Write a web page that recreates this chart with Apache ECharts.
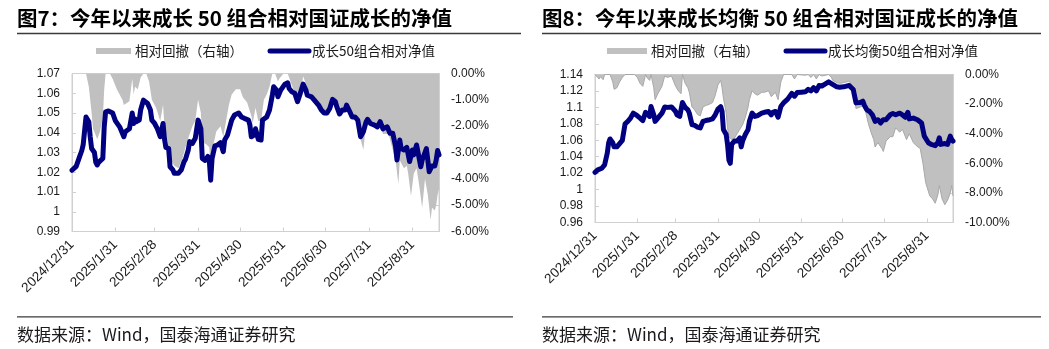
<!DOCTYPE html>
<html>
<head>
<meta charset="utf-8">
<script src="https://cdn.jsdelivr.net/npm/echarts@6/dist/echarts.min.js"></script>
<style>
  html, body { margin: 0; padding: 0; background: #fff; }
  #chart { width: 1049px; height: 349px; }
</style>
</head>
<body>
<div id="chart"></div>
<script>
// ---- Data -------------------------------------------------------------
// Month-end dates shown on the horizontal axis
const monthEndLabels = ['2024/12/31', '2025/1/31', '2025/2/28', '2025/3/31', '2025/4/30',
  '2025/5/31', '2025/6/30', '2025/7/31', '2025/8/31'];

// Fig.7: 成长50组合相对净值 (left axis)
const fig7Nav = [
  ['2024/12/31', 1.021], ['2025/1/3', 1.023], ['2025/1/5', 1.027], ['2025/1/7', 1.031], ['2025/1/8', 1.034],
  ['2025/1/10', 1.048], ['2025/1/11', 1.049], ['2025/1/12', 1.0456], ['2025/1/13', 1.038], ['2025/1/14', 1.032],
  ['2025/1/16', 1.030], ['2025/1/17', 1.025], ['2025/1/18', 1.0237], ['2025/1/19', 1.025], ['2025/1/22', 1.027],
  ['2025/1/23', 1.043], ['2025/1/24', 1.0506], ['2025/1/26', 1.051], ['2025/1/29', 1.050], ['2025/1/31', 1.046],
  ['2025/2/3', 1.043], ['2025/2/6', 1.038], ['2025/2/7', 1.0405], ['2025/2/10', 1.042], ['2025/2/11', 1.0417],
  ['2025/2/12', 1.050], ['2025/2/13', 1.0447], ['2025/2/14', 1.047], ['2025/2/15', 1.0456], ['2025/2/17', 1.0464],
  ['2025/2/18', 1.0515], ['2025/2/20', 1.0565], ['2025/2/23', 1.0548], ['2025/2/25', 1.0515], ['2025/2/26', 1.0464],
  ['2025/2/28', 1.0447], ['2025/3/2', 1.042], ['2025/3/4', 1.038], ['2025/3/6', 1.0447], ['2025/3/7', 1.037],
  ['2025/3/8', 1.0326], ['2025/3/10', 1.032], ['2025/3/11', 1.0228], ['2025/3/13', 1.0212], ['2025/3/14', 1.0195],
  ['2025/3/17', 1.0195], ['2025/3/19', 1.0212], ['2025/3/21', 1.0254], ['2025/3/22', 1.0265], ['2025/3/24', 1.0313],
  ['2025/3/25', 1.0355], ['2025/3/27', 1.0346], ['2025/3/29', 1.0372], ['2025/3/31', 1.0464], ['2025/4/2', 1.042],
  ['2025/4/3', 1.027], ['2025/4/5', 1.026], ['2025/4/7', 1.028], ['2025/4/8', 1.026], ['2025/4/9', 1.016],
  ['2025/4/10', 1.027], ['2025/4/12', 1.0333], ['2025/4/14', 1.0338], ['2025/4/16', 1.035], ['2025/4/18', 1.0304],
  ['2025/4/19', 1.0363], ['2025/4/21', 1.0388], ['2025/4/24', 1.0464], ['2025/4/26', 1.049], ['2025/4/29', 1.050],
  ['2025/5/1', 1.048], ['2025/5/3', 1.0473], ['2025/5/6', 1.0464], ['2025/5/7', 1.0439], ['2025/5/8', 1.038],
  ['2025/5/10', 1.0388], ['2025/5/11', 1.042], ['2025/5/13', 1.0367], ['2025/5/15', 1.0363], ['2025/5/16', 1.0464],
  ['2025/5/19', 1.048], ['2025/5/21', 1.0515], ['2025/5/23', 1.059], ['2025/5/24', 1.0633], ['2025/5/26', 1.0616],
  ['2025/5/27', 1.0582], ['2025/5/29', 1.0616], ['2025/6/1', 1.0646], ['2025/6/3', 1.0653], ['2025/6/4', 1.0624],
  ['2025/6/6', 1.0607], ['2025/6/8', 1.060], ['2025/6/10', 1.0557], ['2025/6/11', 1.0565], ['2025/6/12', 1.060],
  ['2025/6/14', 1.0646], ['2025/6/16', 1.0616], ['2025/6/17', 1.059], ['2025/6/20', 1.0582], ['2025/6/22', 1.0565],
  ['2025/6/25', 1.054], ['2025/6/27', 1.0515], ['2025/6/29', 1.050], ['2025/7/1', 1.050], ['2025/7/3', 1.0523],
  ['2025/7/5', 1.0569], ['2025/7/7', 1.0557], ['2025/7/8', 1.0532], ['2025/7/10', 1.0495], ['2025/7/12', 1.0515],
  ['2025/7/14', 1.0515], ['2025/7/15', 1.054], ['2025/7/17', 1.0511], ['2025/7/19', 1.048], ['2025/7/21', 1.048],
  ['2025/7/23', 1.0464], ['2025/7/25', 1.038], ['2025/7/27', 1.0405], ['2025/7/29', 1.0456], ['2025/7/30', 1.0468],
  ['2025/8/1', 1.0447], ['2025/8/4', 1.0439], ['2025/8/6', 1.043], ['2025/8/8', 1.0456], ['2025/8/10', 1.042],
  ['2025/8/11', 1.042], ['2025/8/13', 1.043], ['2025/8/15', 1.0397], ['2025/8/17', 1.0397], ['2025/8/19', 1.033],
  ['2025/8/20', 1.0262], ['2025/8/22', 1.0363], ['2025/8/23', 1.032], ['2025/8/25', 1.0313], ['2025/8/27', 1.0326],
  ['2025/8/29', 1.0254], ['2025/8/31', 1.0313], ['2025/9/1', 1.0288], ['2025/9/3', 1.0338], ['2025/9/6', 1.0228],
  ['2025/9/7', 1.0262], ['2025/9/10', 1.032], ['2025/9/11', 1.0262], ['2025/9/12', 1.0203], ['2025/9/14', 1.0232],
  ['2025/9/16', 1.0232], ['2025/9/17', 1.0262], ['2025/9/18', 1.031], ['2025/9/19', 1.0288]
];

// Fig.7: 相对回撤 in % (right axis)
const fig7Drawdown = [
  ['2024/12/31', 0], ['2025/1/10', 0], ['2025/1/11', 0], ['2025/1/12', -0.5], ['2025/1/14', -1.5],
  ['2025/1/15', -2.1], ['2025/1/17', -2.35], ['2025/1/18', -2.5], ['2025/1/20', -2.2], ['2025/1/22', -1.7],
  ['2025/1/23', -0.6], ['2025/1/24', 0], ['2025/1/27', 0], ['2025/1/29', -0.2], ['2025/2/1', -0.6],
  ['2025/2/5', -1.0], ['2025/2/6', -1.2], ['2025/2/10', -1.05], ['2025/2/12', -0.2], ['2025/2/13', -0.8],
  ['2025/2/14', -0.5], ['2025/2/16', -0.6], ['2025/2/18', -0.15], ['2025/2/20', 0], ['2025/2/22', 0],
  ['2025/2/24', -0.3], ['2025/2/26', -1.0], ['2025/3/1', -1.3], ['2025/3/4', -1.8], ['2025/3/6', -1.2],
  ['2025/3/7', -2.0], ['2025/3/9', -2.5], ['2025/3/11', -3.2], ['2025/3/14', -3.5], ['2025/3/17', -3.6],
  ['2025/3/20', -3.2], ['2025/3/22', -2.8], ['2025/3/25', -2.3], ['2025/3/27', -2.0], ['2025/3/29', -1.8],
  ['2025/3/31', -1.0], ['2025/4/2', -1.5], ['2025/4/3', -2.6], ['2025/4/6', -2.7], ['2025/4/8', -2.8],
  ['2025/4/9', -3.6], ['2025/4/11', -2.7], ['2025/4/13', -2.2], ['2025/4/16', -2.0], ['2025/4/18', -2.4],
  ['2025/4/20', -1.8], ['2025/4/22', -1.2], ['2025/4/24', -0.8], ['2025/4/27', -0.6], ['2025/4/30', -0.6],
  ['2025/5/2', -0.9], ['2025/5/5', -1.1], ['2025/5/8', -1.6], ['2025/5/9', -1.9], ['2025/5/11', -1.3],
  ['2025/5/13', -1.8], ['2025/5/15', -1.8], ['2025/5/17', -1.0], ['2025/5/19', -0.8], ['2025/5/21', -0.5],
  ['2025/5/23', 0], ['2025/5/25', 0], ['2025/5/27', -0.3], ['2025/5/28', -0.2], ['2025/5/31', 0],
  ['2025/6/3', 0], ['2025/6/5', -0.3], ['2025/6/7', -0.6], ['2025/6/9', -0.9], ['2025/6/11', -0.9],
  ['2025/6/13', -0.5], ['2025/6/14', -0.1], ['2025/6/16', -0.4], ['2025/6/17', -0.6], ['2025/6/21', -0.9],
  ['2025/6/25', -1.3], ['2025/6/28', -1.5], ['2025/7/1', -1.6], ['2025/7/3', -1.4], ['2025/7/5', -0.9],
  ['2025/7/7', -1.1], ['2025/7/10', -1.6], ['2025/7/13', -1.4], ['2025/7/15', -1.2], ['2025/7/17', -1.4],
  ['2025/7/20', -1.7], ['2025/7/23', -1.8], ['2025/7/25', -2.5], ['2025/7/27', -2.9], ['2025/7/29', -1.9],
  ['2025/7/31', -1.75], ['2025/8/2', -2.0], ['2025/8/5', -2.1], ['2025/8/8', -1.9], ['2025/8/10', -2.3],
  ['2025/8/14', -2.3], ['2025/8/16', -2.7], ['2025/8/19', -3.3], ['2025/8/21', -4.2], ['2025/8/22', -3.3],
  ['2025/8/25', -3.6], ['2025/8/27', -3.5], ['2025/8/28', -3.8], ['2025/8/30', -4.65], ['2025/9/1', -3.8],
  ['2025/9/3', -3.6], ['2025/9/5', -4.3], ['2025/9/7', -5.1], ['2025/9/9', -4.0], ['2025/9/11', -4.6],
  ['2025/9/13', -5.55], ['2025/9/14', -5.1], ['2025/9/16', -5.2], ['2025/9/17', -5.0], ['2025/9/18', -4.6],
  ['2025/9/19', -4.4]
];

// Fig.8: 成长均衡50组合相对净值 (left axis)
const fig8Nav = [
  ['2024/12/31', 1.021], ['2025/1/2', 1.024], ['2025/1/5', 1.026], ['2025/1/7', 1.030], ['2025/1/9', 1.0445],
  ['2025/1/10', 1.057], ['2025/1/11', 1.0616], ['2025/1/13', 1.057], ['2025/1/14', 1.052], ['2025/1/16', 1.052],
  ['2025/1/18', 1.056], ['2025/1/20', 1.060], ['2025/1/21', 1.061], ['2025/1/22', 1.080], ['2025/1/24', 1.083],
  ['2025/1/26', 1.087], ['2025/1/28', 1.093], ['2025/1/30', 1.091], ['2025/2/2', 1.087], ['2025/2/4', 1.084],
  ['2025/2/6', 1.094], ['2025/2/7', 1.093], ['2025/2/9', 1.089], ['2025/2/10', 1.101], ['2025/2/12', 1.091],
  ['2025/2/13', 1.083], ['2025/2/15', 1.087], ['2025/2/18', 1.093], ['2025/2/20', 1.1006], ['2025/2/22', 1.100],
  ['2025/2/25', 1.1006], ['2025/2/26', 1.103], ['2025/2/28', 1.095], ['2025/3/1', 1.091], ['2025/3/3', 1.089],
  ['2025/3/5', 1.106], ['2025/3/7', 1.100], ['2025/3/9', 1.097], ['2025/3/10', 1.093], ['2025/3/12', 1.079],
  ['2025/3/14', 1.078], ['2025/3/16', 1.076], ['2025/3/18', 1.075], ['2025/3/20', 1.083], ['2025/3/22', 1.084],
  ['2025/3/25', 1.085], ['2025/3/27', 1.086], ['2025/3/29', 1.091], ['2025/3/31', 1.098], ['2025/4/2', 1.101],
  ['2025/4/3', 1.095], ['2025/4/4', 1.073], ['2025/4/6', 1.067], ['2025/4/7', 1.055], ['2025/4/8', 1.036],
  ['2025/4/9', 1.032], ['2025/4/10', 1.055], ['2025/4/12', 1.059], ['2025/4/14', 1.059], ['2025/4/16', 1.063],
  ['2025/4/17', 1.052], ['2025/4/18', 1.059], ['2025/4/20', 1.067], ['2025/4/22', 1.073], ['2025/4/23', 1.083],
  ['2025/4/25', 1.093], ['2025/4/27', 1.089], ['2025/4/29', 1.090], ['2025/5/2', 1.093], ['2025/5/4', 1.094],
  ['2025/5/7', 1.095], ['2025/5/9', 1.091], ['2025/5/10', 1.094], ['2025/5/12', 1.095], ['2025/5/14', 1.088],
  ['2025/5/16', 1.101], ['2025/5/18', 1.1055], ['2025/5/21', 1.110], ['2025/5/24', 1.117], ['2025/5/26', 1.1136],
  ['2025/5/28', 1.118], ['2025/5/31', 1.1185], ['2025/6/3', 1.119], ['2025/6/5', 1.122], ['2025/6/7', 1.120],
  ['2025/6/9', 1.124], ['2025/6/11', 1.120], ['2025/6/13', 1.1266], ['2025/6/15', 1.126], ['2025/6/17', 1.128],
  ['2025/6/20', 1.131], ['2025/6/22', 1.129], ['2025/6/23', 1.1266], ['2025/6/26', 1.125], ['2025/6/28', 1.1246],
  ['2025/7/1', 1.125], ['2025/7/3', 1.1258], ['2025/7/5', 1.1266], ['2025/7/8', 1.1217], ['2025/7/9', 1.1136],
  ['2025/7/10', 1.1055], ['2025/7/13', 1.106], ['2025/7/15', 1.1075], ['2025/7/16', 1.103], ['2025/7/18', 1.097],
  ['2025/7/20', 1.095], ['2025/7/22', 1.091], ['2025/7/24', 1.083], ['2025/7/26', 1.085], ['2025/7/28', 1.081],
  ['2025/7/30', 1.085], ['2025/8/1', 1.085], ['2025/8/4', 1.091], ['2025/8/6', 1.0925], ['2025/8/8', 1.091],
  ['2025/8/11', 1.093], ['2025/8/13', 1.091], ['2025/8/15', 1.088], ['2025/8/17', 1.094], ['2025/8/18', 1.086],
  ['2025/8/21', 1.087], ['2025/8/22', 1.087], ['2025/8/24', 1.085], ['2025/8/27', 1.081], ['2025/8/29', 1.065],
  ['2025/9/1', 1.057], ['2025/9/3', 1.055], ['2025/9/6', 1.0535], ['2025/9/8', 1.0575], ['2025/9/9', 1.063],
  ['2025/9/10', 1.055], ['2025/9/13', 1.056], ['2025/9/15', 1.055], ['2025/9/17', 1.065], ['2025/9/18', 1.061],
  ['2025/9/19', 1.059]
];

// Fig.8: 相对回撤 in % (right axis)
const fig8Drawdown = [
  ['2024/12/31', 0], ['2025/1/1', 0], ['2025/1/3', -0.3], ['2025/1/4', -0.15], ['2025/1/6', -0.35],
  ['2025/1/7', 0], ['2025/1/11', 0], ['2025/1/13', -0.5], ['2025/1/14', -1.0], ['2025/1/16', -0.9],
  ['2025/1/18', -0.5], ['2025/1/20', -0.2], ['2025/1/21', -0.1], ['2025/1/22', 0], ['2025/1/29', 0],
  ['2025/1/31', -0.2], ['2025/2/2', -0.6], ['2025/2/4', -0.8], ['2025/2/6', 0], ['2025/2/7', -0.2],
  ['2025/2/9', -0.4], ['2025/2/10', 0], ['2025/2/12', -0.9], ['2025/2/13', -1.7], ['2025/2/15', -1.3],
  ['2025/2/18', -0.8], ['2025/2/20', -0.1], ['2025/2/22', -0.2], ['2025/2/25', -0.1], ['2025/2/26', 0],
  ['2025/2/28', -0.8], ['2025/3/2', -1.1], ['2025/3/4', -1.3], ['2025/3/5', 0], ['2025/3/7', -0.6],
  ['2025/3/9', -0.9], ['2025/3/10', -1.2], ['2025/3/12', -2.2], ['2025/3/14', -2.4], ['2025/3/16', -2.7],
  ['2025/3/18', -2.8], ['2025/3/20', -2.2], ['2025/3/22', -2.1], ['2025/3/25', -2.0], ['2025/3/27', -1.9],
  ['2025/3/29', -1.4], ['2025/3/31', -0.7], ['2025/4/2', -0.4], ['2025/4/3', -0.9], ['2025/4/4', -1.6],
  ['2025/4/6', -2.6], ['2025/4/7', -3.6], ['2025/4/8', -4.2], ['2025/4/10', -4.4], ['2025/4/12', -4.3],
  ['2025/4/14', -4.0], ['2025/4/16', -3.7], ['2025/4/18', -3.4], ['2025/4/20', -2.9], ['2025/4/22', -2.2],
  ['2025/4/23', -1.7], ['2025/4/25', -1.1], ['2025/4/27', -1.3], ['2025/4/29', -1.4], ['2025/5/2', -1.2],
  ['2025/5/4', -1.2], ['2025/5/7', -1.1], ['2025/5/9', -1.5], ['2025/5/12', -1.2], ['2025/5/14', -1.7],
  ['2025/5/16', -0.5], ['2025/5/18', 0], ['2025/5/21', 0], ['2025/5/24', 0], ['2025/5/26', -0.3],
  ['2025/5/28', 0], ['2025/6/3', -0.05], ['2025/6/5', 0], ['2025/6/7', -0.2], ['2025/6/9', 0],
  ['2025/6/11', -0.3], ['2025/6/13', 0], ['2025/6/15', -0.1], ['2025/6/20', 0], ['2025/6/22', -0.2],
  ['2025/6/23', -0.4], ['2025/6/26', -0.55], ['2025/6/28', -0.6], ['2025/7/1', -0.55], ['2025/7/3', -0.5],
  ['2025/7/5', -0.45], ['2025/7/8', -0.9], ['2025/7/9', -1.6], ['2025/7/10', -2.3], ['2025/7/13', -2.2],
  ['2025/7/15', -2.1], ['2025/7/17', -2.5], ['2025/7/19', -3.3], ['2025/7/21', -3.9], ['2025/7/23', -4.4],
  ['2025/7/24', -4.9], ['2025/7/26', -4.6], ['2025/7/29', -5.0], ['2025/7/30', -5.2], ['2025/8/1', -4.5],
  ['2025/8/4', -4.2], ['2025/8/6', -4.2], ['2025/8/8', -3.6], ['2025/8/11', -3.9], ['2025/8/13', -3.7],
  ['2025/8/16', -4.4], ['2025/8/18', -4.0], ['2025/8/21', -4.6], ['2025/8/23', -4.8], ['2025/8/26', -5.0],
  ['2025/8/28', -6.0], ['2025/8/30', -7.3], ['2025/9/2', -8.2], ['2025/9/4', -8.4], ['2025/9/6', -8.7],
  ['2025/9/8', -8.1], ['2025/9/9', -7.5], ['2025/9/11', -8.4], ['2025/9/13', -8.8], ['2025/9/15', -8.5],
  ['2025/9/17', -8.0], ['2025/9/18', -7.5], ['2025/9/19', -8.2]
];

// ---- Calendar axis: one category per calendar day ------------------------
const calendarDays = [];
for (let t = new Date(2024, 11, 31, 12); t <= new Date(2025, 8, 19, 12); t.setDate(t.getDate() + 1)) {
  calendarDays.push(t.getFullYear() + '/' + (t.getMonth() + 1) + '/' + t.getDate());
}
// Place dated observations on the calendar axis; gaps (weekends etc.) are bridged
function onCalendar(pairs) {
  const byDate = new Map(pairs);
  return calendarDays.map(d => (byDate.has(d) ? byDate.get(d) : null));
}
const isMonthEnd = (idx, value) => monthEndLabels.includes(value);

// ---- Styling ------------------------------------------------------------
const NAVY = '#000080';
const GREY = '#c0c0c0';
const AXIS_GREY = '#d0d0d0';
const TEXT = '#1a1a1a';
const LATIN = '"Liberation Sans", Arial, sans-serif';
const CJK = '"Noto Sans CJK SC", sans-serif';

function xAxisFor(gridIndex) {
  return {
    type: 'category', gridIndex, data: calendarDays, boundaryGap: false,
    axisLine: { onZero: false, lineStyle: { color: AXIS_GREY, width: 1 } },
    axisTick: { inside: true, length: 4, interval: isMonthEnd, lineStyle: { color: AXIS_GREY } },
    axisLabel: { interval: isMonthEnd, rotate: 45, margin: 11, fontSize: 13.5, fontFamily: LATIN, color: TEXT },
    splitLine: { show: false }
  };
}
function yAxisFor(gridIndex, position, min, max, interval, formatter) {
  return {
    type: 'value', gridIndex, position, min, max, interval,
    axisLine: { show: true, lineStyle: { color: AXIS_GREY, width: 1 } },
    axisTick: { show: true, inside: true, length: 4, lineStyle: { color: AXIS_GREY } },
    axisLabel: { margin: 12, fontSize: 12, fontFamily: LATIN, color: TEXT, formatter },
    splitLine: { show: false }
  };
}
const pct = v => v.toFixed(2) + '%';

// Legend swatches, headings, rules and source notes
function panelDecor(x0, ruleEnd, srcRuleEnd, heading, swatchX, swatchW, navX, navName, navTextX) {
  return [
    { type: 'text', x: x0, y: 18, style: { text: heading, font: 'bold 20.5px ' + CJK, fill: '#000',
      align: 'left', verticalAlign: 'middle', textAlign: 'left', textVerticalAlign: 'middle' } },
    { type: 'line', shape: { x1: x0, y1: 33.5, x2: ruleEnd, y2: 33.5 }, style: { stroke: '#3a3a3a', lineWidth: 1.3 } },
    { type: 'rect', shape: { x: swatchX, y: 48, width: swatchW, height: 6 }, style: { fill: GREY } },
    { type: 'text', x: swatchX + swatchW + 4, y: 51, style: { text: '相对回撤（右轴）', font: '13.5px ' + CJK, fill: TEXT,
      align: 'left', verticalAlign: 'middle', textAlign: 'left', textVerticalAlign: 'middle' } },
    { type: 'line', shape: { x1: navX, y1: 51, x2: navX + 39, y2: 51 }, style: { stroke: NAVY, lineWidth: 5, lineCap: 'round' } },
    { type: 'text', x: navTextX, y: 51, style: { text: navName, font: '13.5px ' + CJK, fill: TEXT,
      align: 'left', verticalAlign: 'middle', textAlign: 'left', textVerticalAlign: 'middle' } },
    { type: 'line', shape: { x1: x0, y1: 316.8, x2: srcRuleEnd, y2: 316.8 }, style: { stroke: '#3a3a3a', lineWidth: 1.3 } },
    { type: 'text', x: x0, y: 335, style: { text: '数据来源：Wind，国泰海通证券研究', font: '17px ' + CJK, fill: TEXT,
      align: 'left', verticalAlign: 'middle', textAlign: 'left', textVerticalAlign: 'middle' } }
  ];
}

const chart = echarts.init(document.getElementById('chart'), null, { renderer: 'canvas' });
chart.setOption({
  animation: false,
  backgroundColor: '#fff',
  grid: [
    { left: 72, top: 73.5, width: 367, height: 158, show: true, borderColor: AXIS_GREY, borderWidth: 1, backgroundColor: 'transparent' },
    { left: 595, top: 74.5, width: 358, height: 148, show: true, borderColor: AXIS_GREY, borderWidth: 1, backgroundColor: 'transparent' }
  ],
  xAxis: [xAxisFor(0), xAxisFor(1)],
  yAxis: [
    yAxisFor(0, 'left', 0.99, 1.07, 0.01),
    yAxisFor(0, 'right', -6, 0, 1, pct),
    yAxisFor(1, 'left', 0.96, 1.14, 0.02),
    yAxisFor(1, 'right', -10, 0, 2, pct)
  ],
  series: [
    { name: '相对回撤（右轴）', type: 'line', xAxisIndex: 0, yAxisIndex: 1, data: onCalendar(fig7Drawdown),
      showSymbol: false, connectNulls: true, z: 1,
      lineStyle: { width: 0, color: GREY }, itemStyle: { color: GREY },
      areaStyle: { color: GREY, opacity: 1 } },
    { name: '成长50组合相对净值', type: 'line', xAxisIndex: 0, yAxisIndex: 0, data: onCalendar(fig7Nav),
      showSymbol: false, connectNulls: true, z: 3,
      lineStyle: { width: 5, color: NAVY, cap: 'round', join: 'round' }, itemStyle: { color: NAVY } },
    { name: '相对回撤（右轴）', type: 'line', xAxisIndex: 1, yAxisIndex: 3, data: onCalendar(fig8Drawdown),
      showSymbol: false, connectNulls: true, z: 1,
      lineStyle: { width: 1, color: '#a8a8a8' }, itemStyle: { color: GREY },
      areaStyle: { color: GREY, opacity: 1 } },
    { name: '成长均衡50组合相对净值', type: 'line', xAxisIndex: 1, yAxisIndex: 2, data: onCalendar(fig8Nav),
      showSymbol: false, connectNulls: true, z: 3,
      lineStyle: { width: 5, color: NAVY, cap: 'round', join: 'round' }, itemStyle: { color: NAVY } }
  ],
  graphic: [
    ...panelDecor(17, 521, 513, '图7：今年以来成长 50 组合相对国证成长的净值', 96, 35, 270, '成长50组合相对净值', 312),
    ...panelDecor(542, 1041, 1041, '图8：今年以来成长均衡 50 组合相对国证成长的净值', 607, 40, 786, '成长均衡50组合相对净值', 828)
  ]
});
</script>
</body>
</html>
